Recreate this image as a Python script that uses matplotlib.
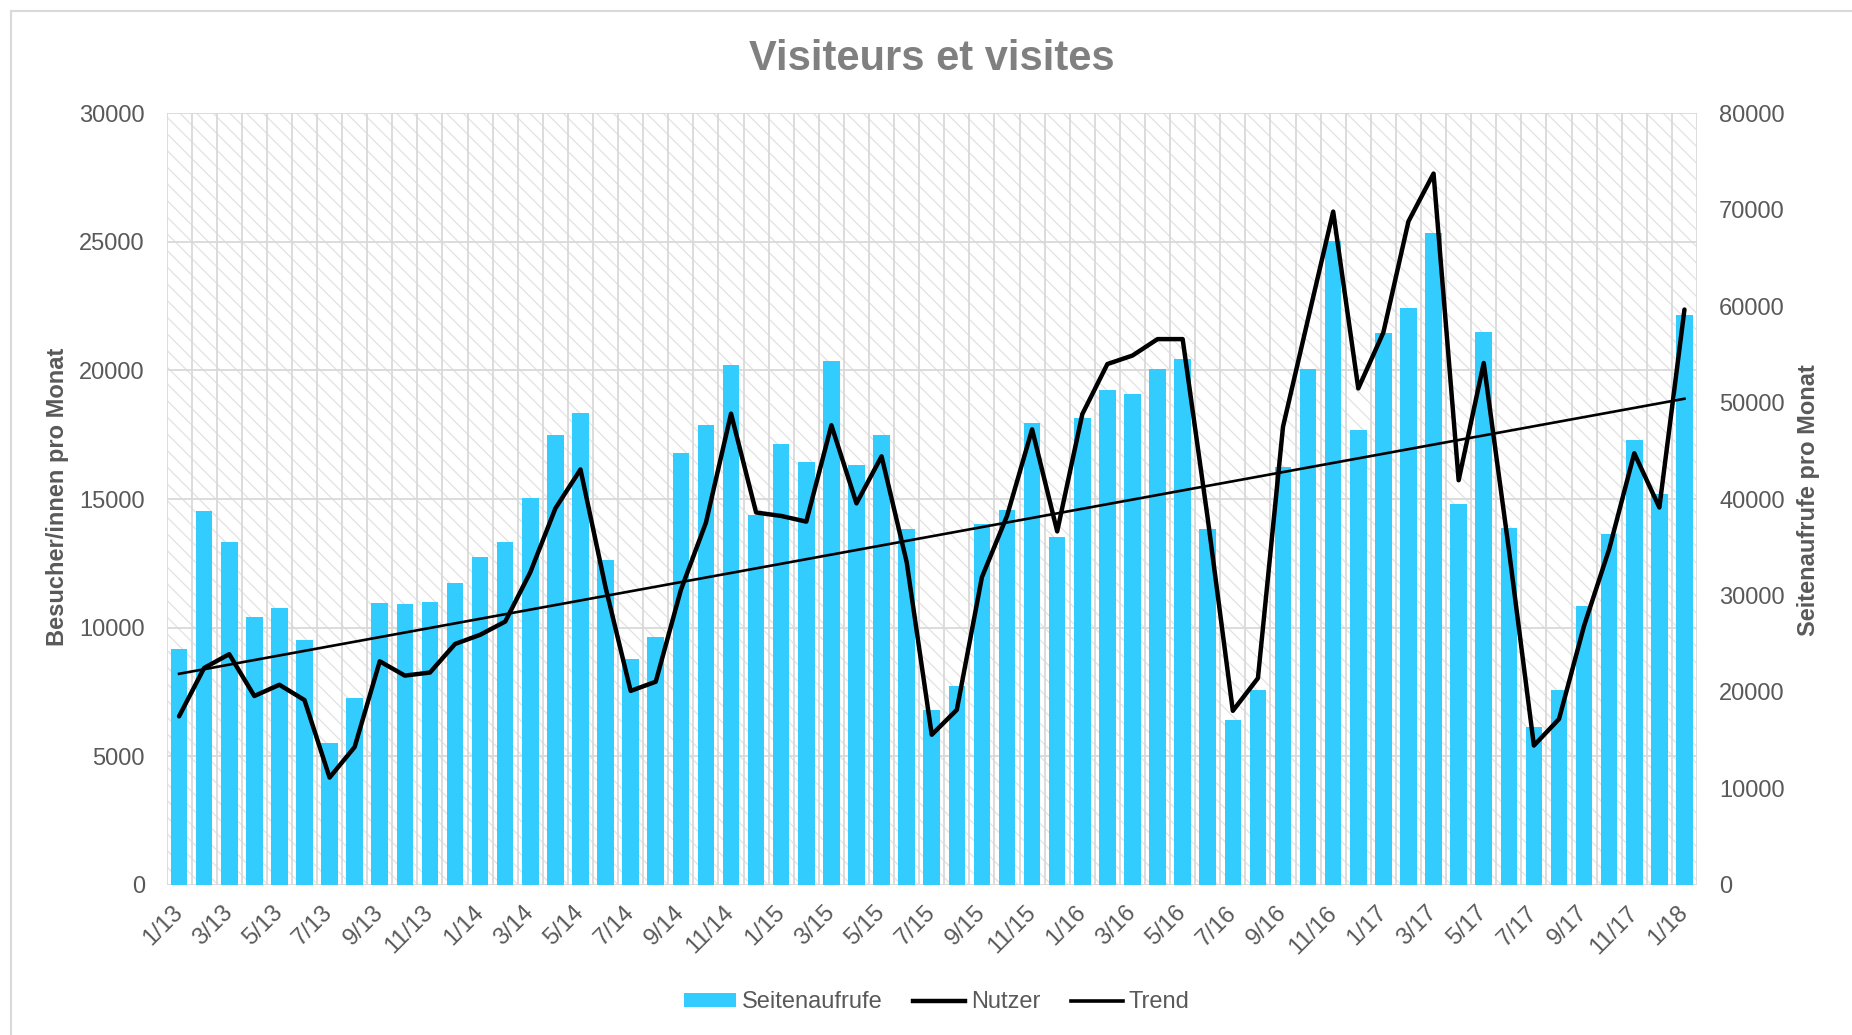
import matplotlib
matplotlib.use("Agg")
import matplotlib.pyplot as plt
from matplotlib.patches import Rectangle, Patch
from matplotlib.lines import Line2D

plt.rcParams['font.family'] = ['Liberation Sans', 'DejaVu Sans']
plt.rcParams['hatch.color'] = '#E2E2E2'
plt.rcParams['hatch.linewidth'] = 0.9

months = ["1/13", "2/13", "3/13", "4/13", "5/13", "6/13", "7/13", "8/13", "9/13", "10/13", "11/13", "12/13",
          "1/14", "2/14", "3/14", "4/14", "5/14", "6/14", "7/14", "8/14", "9/14", "10/14", "11/14", "12/14",
          "1/15", "2/15", "3/15", "4/15", "5/15", "6/15", "7/15", "8/15", "9/15", "10/15", "11/15", "12/15",
          "1/16", "2/16", "3/16", "4/16", "5/16", "6/16", "7/16", "8/16", "9/16", "10/16", "11/16", "12/16",
          "1/17", "2/17", "3/17", "4/17", "5/17", "6/17", "7/17", "8/17", "9/17", "10/17", "11/17", "12/17",
          "1/18"]

seitenaufrufe = [24430, 38710, 35540, 27710, 28660, 25380, 14700, 19350, 29190, 29080, 29300, 31300,
                 33950, 35540, 40080, 46640, 48970, 33630, 23370, 25650, 44740, 47640, 53940, 38290,
                 45690, 43790, 54360, 43570, 46590, 36860, 18090, 20570, 37440, 38870, 47860, 36010,
                 48390, 51290, 50930, 53520, 54520, 36860, 17030, 20150, 43360, 53460, 66790, 47120,
                 57220, 59860, 67580, 39450, 57320, 37020, 16390, 20150, 28870, 36380, 46110, 40510,
                 59120]

nutzer = [6544, 8428, 8963, 7337, 7773, 7178, 4164, 5354, 8686, 8130, 8249, 9360,
          9717, 10232, 12150, 14635, 16150, 11560, 7535, 7892, 11460, 14080, 18320, 14475,
          14340, 14120, 17870, 14830, 16660, 12550, 5830, 6800, 11960, 14340, 17710, 13740,
          18300, 20250, 20580, 21220, 21220, 14240, 6760, 8030, 17810, 22010, 26180, 19300,
          21480, 25800, 27660, 15730, 20290, 13050, 5410, 6440, 10070, 13050, 16780, 14670,
          22370]

trend_idx = [0, 60]
trend_vals = [8200, 18900]

left_ticks = [0, 5000, 10000, 15000, 20000, 25000, 30000]
right_ticks = [0, 10000, 20000, 30000, 40000, 50000, 60000, 70000, 80000]

BAR = '#33CCFF'
TXT = '#595959'
GRID = '#D9D9D9'
FS = 17

fig = plt.figure(figsize=(18.52, 10.35), dpi=100)
rect = [166.5 / 1852, 1 - 884.6 / 1035, (1697 - 166.5) / 1852, (884.6 - 113.4) / 1035]

x = list(range(len(months)))
xlim = (-0.5, len(months) - 0.5)

# background axes: hatch, grid, left ticks, x ticks
axbg = fig.add_axes(rect, zorder=0)
axbg.set_xlim(*xlim)
axbg.set_ylim(0, 30000)
axbg.add_patch(Rectangle((0, 0), 1, 1, transform=axbg.transAxes, facecolor='white',
                         edgecolor='#E2E2E2', hatch='\\\\', linewidth=0, zorder=-1))
axbg.set_yticks(left_ticks)
axbg.set_yticklabels([str(v) for v in left_ticks])
axbg.set_xticks(x[::2])
axbg.set_xticklabels(months[::2], rotation=45, ha='right', va='center', rotation_mode='anchor')
axbg.set_xticks([i - 0.5 for i in range(len(months) + 1)], minor=True)
axbg.grid(axis='y', which='major', color=GRID, linewidth=1.3)
axbg.grid(axis='x', which='minor', color=GRID, linewidth=1.3)
axbg.set_axisbelow(True)
axbg.tick_params(axis='y', length=0, pad=15.5, labelsize=FS, labelcolor=TXT)
axbg.tick_params(axis='x', which='major', length=0, pad=18, labelsize=FS, labelcolor=TXT)
axbg.tick_params(axis='x', which='minor', length=0)
for s in axbg.spines.values():
    s.set_visible(False)

# bars axes (right scale)
axbar = fig.add_axes(rect, zorder=1)
axbar.patch.set_visible(False)
axbar.set_xlim(*xlim)
axbar.set_ylim(0, 80000)
axbar.bar(x, seitenaufrufe, width=0.66, color=BAR, linewidth=0)
axbar.yaxis.tick_right()
axbar.set_yticks(right_ticks)
axbar.set_yticklabels([str(v) for v in right_ticks])
axbar.tick_params(axis='y', length=0, pad=16, labelsize=FS, labelcolor=TXT)
axbar.tick_params(axis='x', bottom=False, labelbottom=False)
for s in axbar.spines.values():
    s.set_visible(False)

# lines axes (left scale)
axln = fig.add_axes(rect, zorder=2)
axln.patch.set_visible(False)
axln.set_xlim(*xlim)
axln.set_ylim(0, 30000)
axln.plot(x, nutzer, color='black', linewidth=3.2, solid_joinstyle='round', solid_capstyle='round')
axln.plot(trend_idx, trend_vals, color='black', linewidth=1.9)
axln.set_xticks([])
axln.set_yticks([])
for s in axln.spines.values():
    s.set_visible(False)

# texts
fig.text(0.503, 1 - 59 / 1035, 'Visiteurs et visites', ha='center', va='center',
         fontsize=30, fontweight='bold', color='#808080')
fig.text(58 / 1852, 1 - 497 / 1035, 'Besucher/innen pro Monat', rotation=90, ha='center', va='center',
         fontsize=FS, fontweight='bold', color=TXT)
fig.text(1808 / 1852, 1 - 500 / 1035, 'Seitenaufrufe pro Monat', rotation=90, ha='center', va='center',
         fontsize=FS, fontweight='bold', color=TXT)

handles = [Patch(facecolor=BAR, edgecolor='none'),
           Line2D([], [], color='black', linewidth=3.2),
           Line2D([], [], color='black', linewidth=2.6)]
fig.legend(handles, ['Seitenaufrufe', 'Nutzer', 'Trend'], loc='center',
           bbox_to_anchor=(0.5057, 1 - 1002.5 / 1035), ncol=3, frameon=False, fontsize=FS,
           handlelength=2.2, handleheight=0.55, handletextpad=0.25, columnspacing=1.3,
           labelcolor=TXT)

# chart border
fig.patches.append(Rectangle((11 / 1852, -0.1), 2, 1 - 11 / 1035 + 0.1, transform=fig.transFigure,
                             fill=False, edgecolor=GRID, linewidth=1.5, zorder=-5))

fig.savefig('out.png', dpi=100)
